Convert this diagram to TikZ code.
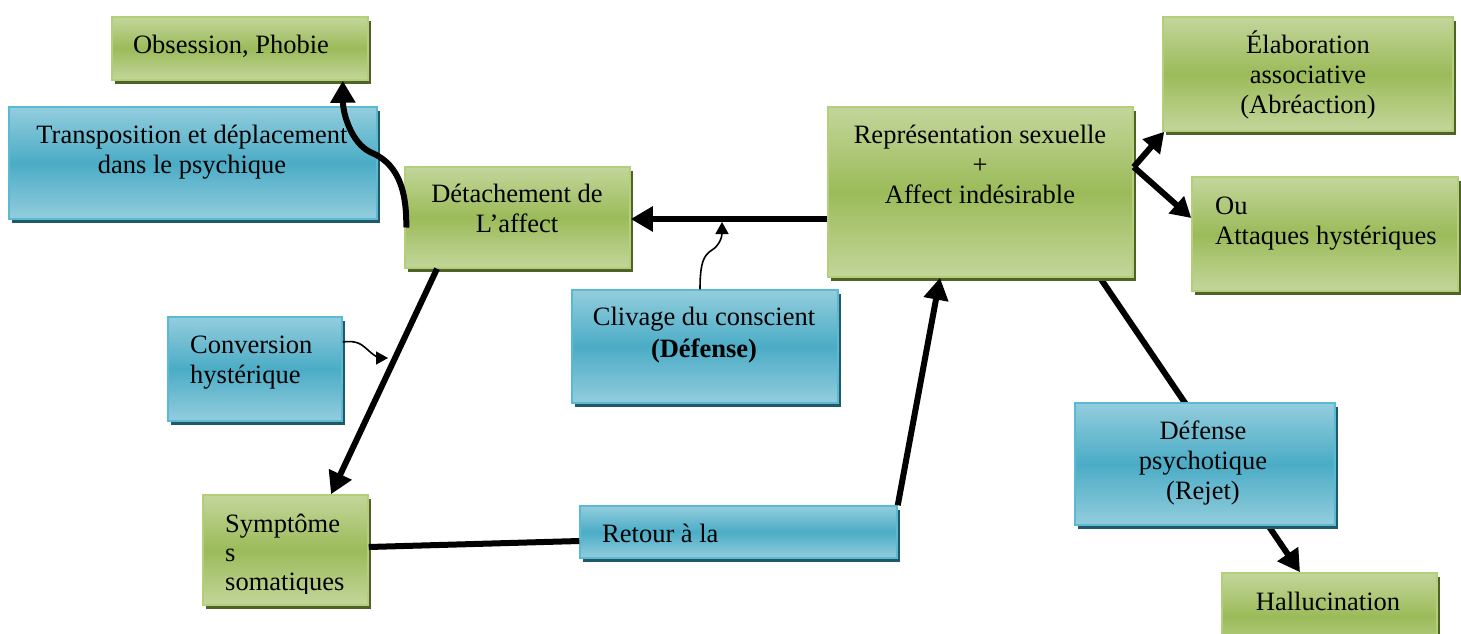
\documentclass[tikz,border=0pt]{standalone}
\usepackage{fontspec}
\setmainfont{Liberation Serif}
\usetikzlibrary{arrows.meta,shadows,calc}
\pgfdeclarelayer{bg}
\pgfsetlayers{bg,main}
\definecolor{gLight}{HTML}{C3D69B}
\definecolor{gMid}{HTML}{9BBB59}
\definecolor{gEdge}{HTML}{B3CF7A}
\definecolor{gShadow}{HTML}{4F6228}
\definecolor{bLight}{HTML}{93CDDD}
\definecolor{bMid}{HTML}{4BACC6}
\definecolor{bEdge}{HTML}{5BBAD3}
\definecolor{bShadow}{HTML}{215968}
\tikzset{
  gbox/.style={rectangle, inner sep=0pt, draw=gEdge, line width=1.5pt,
    top color=gLight, bottom color=gLight, middle color=gMid,
    general shadow={fill=gShadow, shadow xshift=3pt, shadow yshift=-4pt}},
  bbox/.style={rectangle, inner sep=0pt, draw=bEdge, line width=1.5pt,
    top color=bLight, bottom color=bLight, middle color=bMid,
    general shadow={fill=bShadow, shadow xshift=3pt, shadow yshift=-4pt}},
  txt/.style={inner sep=0pt, align=center, font=\fontsize{26.5}{30}\selectfont},
  ltxt/.style={inner sep=0pt, align=left, font=\fontsize{26.5}{30}\selectfont},
  bigarrow/.style={line width=6pt, -{Triangle[length=22pt,width=24pt]}},
  midarrow/.style={line width=6pt, -{Triangle[length=20pt,width=22pt]}},
  bigline/.style={line width=6pt},
  thinarrow/.style={line width=1.6pt, -{Triangle[length=12pt,width=13pt]}}
}
\begin{document}
\begin{tikzpicture}[x=1pt,y=-1pt]
\useasboundingbox (0,0) rectangle (1461,634);
% boxes
\node[gbox, minimum width=256pt, minimum height=63pt] (obs) at (240,48.5) {};
\node[bbox, minimum width=368pt, minimum height=112pt] (trans) at (193,163) {};
\node[gbox, minimum width=225pt, minimum height=101pt] (det) at (517.5,217.5) {};
\node[gbox, minimum width=305pt, minimum height=170pt] (rep) at (980.5,192) {};
\node[gbox, minimum width=290pt, minimum height=114pt] (elab) at (1308,74) {};
\node[gbox, minimum width=266pt, minimum height=114pt] (ou) at (1325,234) {};
\node[bbox, minimum width=266pt, minimum height=113pt] (cliv) at (705,346.5) {};
\node[bbox, minimum width=174pt, minimum height=104pt] (conv) at (255,369) {};
\node[gbox, minimum width=165pt, minimum height=110pt] (symp) at (285.5,550) {};
\node[bbox, minimum width=317pt, minimum height=52pt] (ret) at (738.5,532) {};
\node[bbox, minimum width=260pt, minimum height=122pt] (def) at (1205,464) {};
\node[gbox, minimum width=215pt, minimum height=87pt] (hal) at (1329.5,616.5) {};
% texts (base anchor = baseline of the last line)
\node[txt, anchor=base] (obsT) at (231,53) {Obsession, Phobie};
\node[txt, anchor=base] (transT) at (192,173) {Transposition et déplacement\\dans le psychique};
\node[txt, anchor=base] (detT) at (517,232) {Détachement de\\L’affect};
\node[txt, anchor=base] (repT) at (980,203) {Représentation sexuelle\\+\\Affect indésirable};
\node[txt, anchor=base] (elabT) at (1308,113) {Élaboration\\associative\\(Abréaction)};
\node[ltxt, anchor=base west] (ouT) at (1215,244) {Ou\\Attaques hystériques};
\node[txt, anchor=base] (clivT) at (704,357) {Clivage du conscient\\[2pt]\textbf{(Défense)}};
\node[ltxt, anchor=base west] (convT) at (190,383) {Conversion\\hystérique};
\begin{scope}
\clip (203,495) rectangle (368,593);
\node[ltxt, anchor=base west, font=\fontsize{26.5}{29}\selectfont] (sympT) at (225,590) {Symptôme\\s\\somatiques};
\end{scope}
\node[ltxt, anchor=base west] (retT) at (602,542) {Retour à la};
\node[txt, anchor=base] (defT) at (1203,499) {Défense\\psychotique\\(Rejet)};
\node[txt, anchor=base] (halT) at (1328,610) {Hallucination};
% free ends
\coordinate (clivtip) at (722,222);
\coordinate (convtip) at (388,358);
% connectors
\begin{pgfonlayer}{bg}
\draw[bigarrow] ([xshift=119.5pt]rep.south) -- ([xshift=-29.5pt]hal.north);
\end{pgfonlayer}
\draw[bigarrow] ([xshift=2pt,yshift=-10pt]det.west) .. controls (407,185) and (395,162) .. (370,152) .. controls (352,143) and (343,115) .. ([xshift=-26pt]obs.south east);
\draw[bigarrow] ([yshift=-27pt]rep.west) -- ([yshift=-1.5pt]det.east);
\draw[thinarrow] ([xshift=-5pt]cliv.north) .. controls (700,262) and (704,255) .. (712,250) .. controls (720,245) and (722,236) .. (clivtip);
\draw[bigarrow] ([xshift=-80.5pt]det.south) -- ([xshift=45.5pt]symp.north);
\draw[thinarrow] ([yshift=27pt]conv.east) .. controls (358,340) and (362,345) .. (368,350) .. controls (374,356) and (380,358) .. (convtip);
\draw[bigline] ([yshift=3pt]symp.east) -- ([yshift=-9pt]ret.west);
\draw[bigarrow] (ret.north east) -- ([xshift=-40.5pt]rep.south);
\draw[midarrow] ([yshift=25pt]rep.east) -- ([xshift=2pt]elab.south west);
\draw[midarrow] ([yshift=25pt]rep.east) -- ([yshift=16pt]ou.west);
\end{tikzpicture}
\end{document}
